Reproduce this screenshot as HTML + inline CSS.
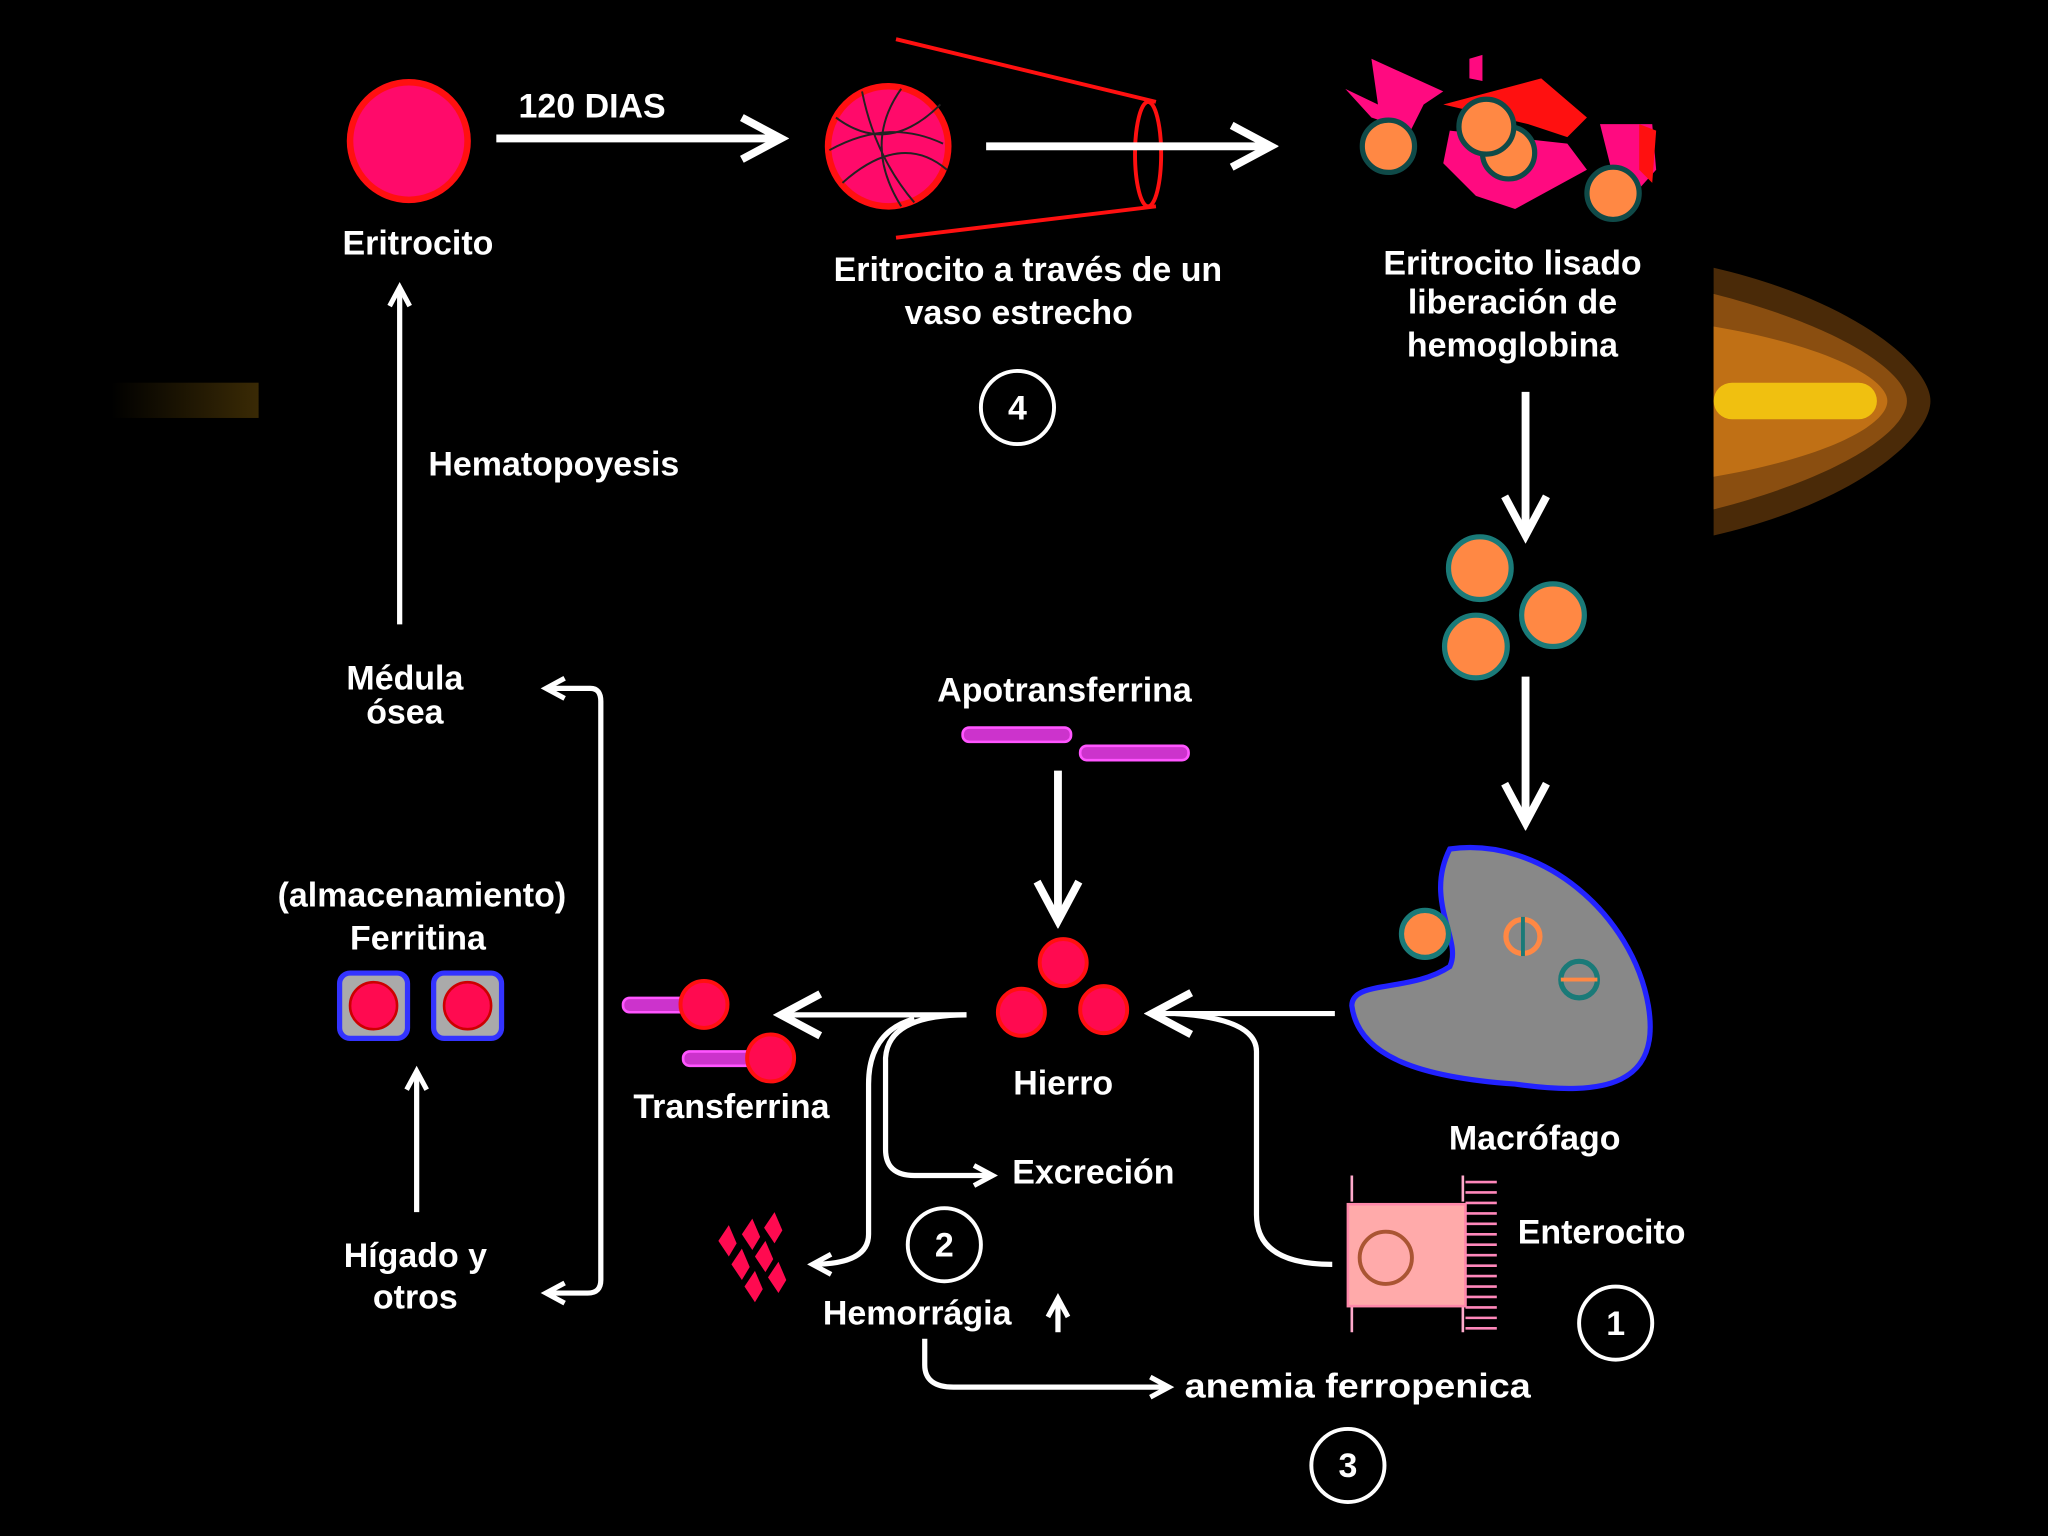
<!DOCTYPE html>
<html><head><meta charset="utf-8"><style>
html,body{margin:0;padding:0;background:#000;width:2048px;height:1536px;overflow:hidden}
svg{display:block}
text{font-family:"Liberation Sans",sans-serif;font-weight:bold;fill:#fff;font-size:26px}
</style></head><body>
<svg width="2048" height="1536" viewBox="0 0 1568 1176" xmlns="http://www.w3.org/2000/svg">
<defs>
<marker id="a" viewBox="0 0 20 20" refX="16" refY="10" markerWidth="22" markerHeight="22" markerUnits="userSpaceOnUse" orient="auto-start-reverse"><path d="M3 3 L16 10 L3 17" fill="none" stroke="#fff" stroke-width="3.5"/></marker>
<marker id="b" viewBox="0 0 40 40" refX="34" refY="20" markerWidth="40" markerHeight="40" markerUnits="userSpaceOnUse" orient="auto"><path d="M4 4 L34 20 L4 36" fill="none" stroke="#fff" stroke-width="6"/></marker>
<linearGradient id="gl" x1="0" x2="1"><stop offset="0" stop-color="#000"/><stop offset="1" stop-color="#3a2a05"/></linearGradient>
</defs>
<rect width="1568" height="1176" fill="#000"/>
<rect x="85" y="293" width="113" height="27" fill="url(#gl)"/>
<path d="M1312 205 C1420 230 1478 280 1478 307 C1478 335 1420 385 1312 410 Z" fill="#4a2a08"/>
<path d="M1312 225 C1410 250 1460 285 1460 307 C1460 330 1410 365 1312 390 Z" fill="#8a4e10"/>
<path d="M1312 250 C1400 265 1445 290 1445 307 C1445 325 1400 350 1312 365 Z" fill="#c07015"/>
<rect x="1312" y="293" width="125" height="28" rx="14" fill="#f0c010"/>

<circle cx="313" cy="108" r="45" fill="#ff0a6a" stroke="#ff1010" stroke-width="5"/>
<text x="320" y="195" text-anchor="middle">Eritrocito</text>
<text x="397" y="90">120 DIAS</text>
<line x1="380" y1="106" x2="598" y2="106" stroke="#fff" stroke-width="6" marker-end="url(#b)"/>

<path d="M686 30 L885 78 M686 182 L885 158" stroke="#ff1010" stroke-width="3"/>
<ellipse cx="879" cy="118" rx="10" ry="40" fill="none" stroke="#ff1010" stroke-width="3"/>
<circle cx="680" cy="112" r="46" fill="#ff0a6a" stroke="#ff1010" stroke-width="5"/>
<path d="M640 90 Q680 120 720 80 M645 140 Q690 100 725 130 M660 70 Q670 120 700 155 M690 68 Q660 110 690 158 M635 115 Q680 90 722 110" stroke="#222" stroke-width="1.5" fill="none"/>
<line x1="755" y1="112" x2="973" y2="112" stroke="#fff" stroke-width="6" marker-end="url(#b)"/>
<text x="787" y="215" text-anchor="middle">Eritrocito a través de un</text>
<text x="780" y="248" text-anchor="middle">vaso estrecho</text>
<circle cx="779" cy="312" r="28" fill="none" stroke="#fff" stroke-width="3"/>
<text x="779" y="321" text-anchor="middle" font-size="24">4</text>

<g>
<path d="M1050 45 L1105 70 L1090 80 L1080 100 L1050 90 L1030 68 L1055 80 Z" fill="#ff0a80"/>
<path d="M1125 45 L1135 42 L1135 62 L1125 60Z" fill="#ff0a80"/>
<path d="M1105 80 L1180 60 L1215 90 L1200 105 L1170 95 Z" fill="#ff1010"/>
<path d="M1110 100 L1200 110 L1215 130 L1160 160 L1130 150 L1105 125 Z" fill="#ff0a80"/>
<path d="M1225 95 L1265 95 L1268 130 L1250 150 L1235 135 Z" fill="#ff0a80"/>
<path d="M1255 95 L1268 100 L1265 140 L1255 130Z" fill="#ff1010"/>
<circle cx="1063" cy="112" r="20" fill="#ff8844" stroke="#0f4a48" stroke-width="4"/>
<circle cx="1155" cy="117" r="20" fill="#ff8844" stroke="#0f4a48" stroke-width="4"/>
<circle cx="1138" cy="97" r="21" fill="#ff8844" stroke="#0f4a48" stroke-width="4"/>
<circle cx="1235" cy="148" r="20" fill="#ff8844" stroke="#0f4a48" stroke-width="4"/>
</g>
<text x="1158" y="210" text-anchor="middle">Eritrocito lisado</text>
<text x="1158" y="240" text-anchor="middle">liberación de</text>
<text x="1158" y="273" text-anchor="middle">hemoglobina</text>
<line x1="1168" y1="300" x2="1168" y2="410" stroke="#fff" stroke-width="6" marker-end="url(#b)"/>
<circle cx="1133" cy="435" r="24" fill="#ff8844" stroke="#1a7a78" stroke-width="4"/>
<circle cx="1189" cy="471" r="24" fill="#ff8844" stroke="#1a7a78" stroke-width="4"/>
<circle cx="1130" cy="495" r="24" fill="#ff8844" stroke="#1a7a78" stroke-width="4"/>
<line x1="1168" y1="518" x2="1168" y2="630" stroke="#fff" stroke-width="6" marker-end="url(#b)"/>

<path d="M1110 650 C1180 640 1250 700 1262 770 C1272 830 1230 840 1160 830 C1090 825 1040 810 1035 770 C1035 750 1080 760 1110 740 C1120 720 1090 690 1110 650 Z" fill="#888" stroke="#2222ff" stroke-width="4"/>
<circle cx="1091" cy="715" r="18" fill="#ff8844" stroke="#1a7a78" stroke-width="4"/>
<circle cx="1166" cy="717" r="13" fill="none" stroke="#ff8844" stroke-width="4"/>
<line x1="1166" y1="702" x2="1166" y2="732" stroke="#1a7a78" stroke-width="3"/>
<circle cx="1209" cy="750" r="14" fill="none" stroke="#1a7a78" stroke-width="4"/>
<line x1="1195" y1="750" x2="1223" y2="750" stroke="#ff8844" stroke-width="3"/>
<text x="1175" y="880" text-anchor="middle">Macrófago</text>

<line x1="306" y1="478" x2="306" y2="220" stroke="#fff" stroke-width="4" marker-end="url(#a)"/>
<text x="328" y="364">Hematopoyesis</text>
<text x="310" y="528" text-anchor="middle">Médula</text>
<text x="310" y="554" text-anchor="middle">ósea</text>
<path d="M418 527 L452 527 Q460 527 460 537 L460 980 Q460 990 450 990 L418 990" fill="none" stroke="#fff" stroke-width="4" marker-start="url(#a)" marker-end="url(#a)"/>

<text x="323" y="694" text-anchor="middle">(almacenamiento)</text>
<text x="320" y="727" text-anchor="middle">Ferritina</text>
<rect x="260" y="745" width="52" height="50" rx="8" fill="#aaa" stroke="#3333ff" stroke-width="4"/>
<circle cx="286" cy="770" r="18" fill="#ff0a50" stroke="#cc0000" stroke-width="2"/>
<rect x="332" y="745" width="52" height="50" rx="8" fill="#aaa" stroke="#3333ff" stroke-width="4"/>
<circle cx="358" cy="770" r="18" fill="#ff0a50" stroke="#cc0000" stroke-width="2"/>
<line x1="319" y1="928" x2="319" y2="820" stroke="#fff" stroke-width="4" marker-end="url(#a)"/>
<text x="318" y="970" text-anchor="middle">Hígado y</text>
<text x="318" y="1002" text-anchor="middle">otros</text>

<text x="815" y="537" text-anchor="middle">Apotransferrina</text>
<rect x="737" y="557" width="83" height="11" rx="5" fill="#cc33cc" stroke="#ff55ff" stroke-width="2"/>
<rect x="827" y="571" width="83" height="11" rx="5" fill="#cc33cc" stroke="#ff55ff" stroke-width="2"/>
<line x1="810" y1="590" x2="810" y2="705" stroke="#fff" stroke-width="6" marker-end="url(#b)"/>
<circle cx="814" cy="737" r="18" fill="#ff0a50" stroke="#ff1010" stroke-width="3"/>
<circle cx="782" cy="775" r="18" fill="#ff0a50" stroke="#ff1010" stroke-width="3"/>
<circle cx="845" cy="773" r="18" fill="#ff0a50" stroke="#ff1010" stroke-width="3"/>
<text x="814" y="838" text-anchor="middle">Hierro</text>

<line x1="1022" y1="776" x2="882" y2="776" stroke="#fff" stroke-width="4" marker-end="url(#b)"/>
<path d="M1020 968 Q962 968 962 930 L962 805 Q962 780 900 776" fill="none" stroke="#fff" stroke-width="4"/>
<line x1="740" y1="777" x2="598" y2="777" stroke="#fff" stroke-width="4" marker-end="url(#b)"/>
<path d="M740 777 Q680 777 678 810 L678 880 Q678 900 700 900 L760 900" fill="none" stroke="#fff" stroke-width="4" marker-end="url(#a)"/>
<path d="M700 780 Q665 790 665 830 L665 945 Q665 968 622 968" fill="none" stroke="#fff" stroke-width="4" marker-end="url(#a)"/>

<rect x="477" y="764" width="63" height="11" rx="5" fill="#cc33cc" stroke="#ff55ff" stroke-width="2"/>
<circle cx="539" cy="769" r="18" fill="#ff0a50" stroke="#ff1010" stroke-width="3"/>
<rect x="523" y="805" width="67" height="11" rx="5" fill="#cc33cc" stroke="#ff55ff" stroke-width="2"/>
<circle cx="590" cy="810" r="18" fill="#ff0a50" stroke="#ff1010" stroke-width="3"/>
<text x="560" y="856" text-anchor="middle">Transferrina</text>
<text x="775" y="906">Excreción</text>
<circle cx="723" cy="953" r="28" fill="none" stroke="#fff" stroke-width="3"/>
<text x="723" y="962" text-anchor="middle" font-size="24">2</text>
<g fill="#ff0a50">
<path d="M550 950 l8 -12 l6 14 l-6 10 z"/><path d="M568 945 l8 -12 l6 14 l-6 10 z"/><path d="M585 940 l8 -12 l6 14 l-6 10 z"/>
<path d="M560 968 l8 -12 l6 14 l-6 10 z"/><path d="M578 962 l8 -12 l6 14 l-6 10 z"/><path d="M570 985 l8 -12 l6 14 l-6 10 z"/><path d="M588 978 l8 -12 l6 14 l-6 10 z"/>
</g>
<text x="630" y="1014">Hemorrágia</text>
<line x1="810" y1="1020" x2="810" y2="994" stroke="#fff" stroke-width="4" marker-end="url(#a)"/>
<path d="M708 1025 L708 1045 Q708 1062 730 1062 L895 1062" fill="none" stroke="#fff" stroke-width="4" marker-end="url(#a)"/>
<text x="907" y="1070" textLength="265" lengthAdjust="spacingAndGlyphs">anemia ferropenica</text>
<circle cx="1032" cy="1122" r="28" fill="none" stroke="#fff" stroke-width="3"/>
<text x="1032" y="1131" text-anchor="middle" font-size="24">3</text>

<g stroke="#ffaacc" stroke-width="2">
<path d="M1035 900 v20 M1035 1000 v20 M1120 900 v20 M1120 1000 v20"/>
</g>
<rect x="1032" y="922" width="90" height="78" fill="#ffaaaa" stroke="#ff88aa" stroke-width="2"/>
<g stroke="#ff88bb" stroke-width="2">
<path d="M1122 905 H1146 M1122 913 H1146 M1122 921 H1146 M1122 929 H1146 M1122 937 H1146 M1122 945 H1146 M1122 953 H1146 M1122 961 H1146 M1122 969 H1146 M1122 977 H1146 M1122 985 H1146 M1122 993 H1146 M1122 1001 H1146 M1122 1009 H1146 M1122 1017 H1146"/>
</g>
<circle cx="1061" cy="963" r="20" fill="none" stroke="#aa5533" stroke-width="3"/>
<text x="1162" y="952">Enterocito</text>
<circle cx="1237" cy="1013" r="28" fill="none" stroke="#fff" stroke-width="3"/>
<text x="1237" y="1022" text-anchor="middle" font-size="24">1</text>
</svg>
</body></html>
